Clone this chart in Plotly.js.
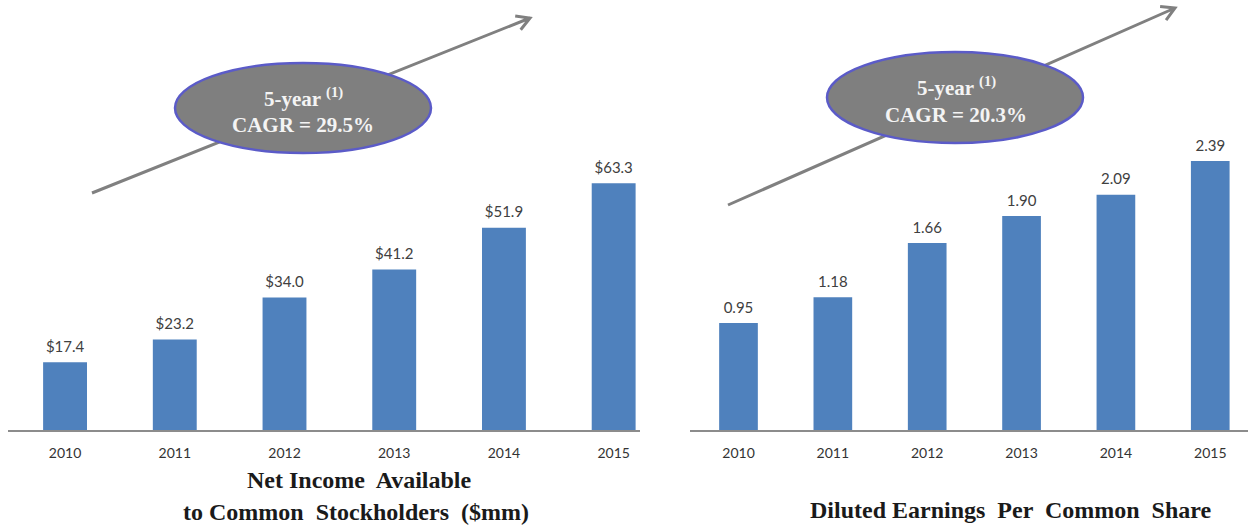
<!DOCTYPE html>
<html>
<head>
<meta charset="utf-8">
<script src="https://cdn.plot.ly/plotly-3.0.1.min.js"></script>
<style>html,body{margin:0;padding:0;background:#fff;}#chart{width:1248px;height:527px;}</style>
</head>
<body>
<div id="chart"></div>
<script>
// ---- data ----
const years = ["2010", "2011", "2012", "2013", "2014", "2015"];
const netIncome = [17.4, 23.2, 34.0, 41.2, 51.9, 63.3];
const netIncomeLabels = ["$17.4", "$23.2", "$34.0", "$41.2", "$51.9", "$63.3"];
const dilutedEPS = [0.95, 1.18, 1.66, 1.90, 2.09, 2.39];
const dilutedEPSLabels = ["0.95", "1.18", "1.66", "1.90", "2.09", "2.39"];
const leftTitle = ["Net Income  Available", "to Common  Stockholders  ($mm)"];
const rightTitle = "Diluted Earnings  Per  Common  Share";
const leftCagr = ["5-year <sup>(1)</sup>", "CAGR = 29.5%"];
const rightCagr = ["5-year <sup>(1)</sup>", "CAGR = 20.3%"];

// ---- helpers (pixel -> paper) ----
const W = 1248, H = 527;
const px = x => x / W;
const py = y => 1 - y / H;
function pt(x, y) { return px(x).toFixed(5) + "," + py(y).toFixed(5); }

const barColor = "#4f81bd";
const labelFont = {family: "Lato, 'Open Sans', sans-serif", size: 15, color: "#404040"};
const serifBold = "'Liberation Serif', 'DejaVu Serif', serif";

const traces = [
  {type: "bar", x: years, y: netIncome, xaxis: "x", yaxis: "y", width: 0.4,
   marker: {color: barColor}, hoverinfo: "skip"},
  {type: "bar", x: years, y: dilutedEPS, xaxis: "x2", yaxis: "y2", width: 0.41,
   marker: {color: barColor}, hoverinfo: "skip"},
  {type: "scatter", mode: "markers+text", x: years, y: netIncome, xaxis: "x", yaxis: "y",
   text: netIncomeLabels, textposition: "top center", textfont: labelFont,
   marker: {size: 9, opacity: 0}, cliponaxis: false, hoverinfo: "skip"},
  {type: "scatter", mode: "markers+text", x: years, y: dilutedEPS, xaxis: "x2", yaxis: "y2",
   text: dilutedEPSLabels, textposition: "top center", textfont: labelFont,
   marker: {size: 9, opacity: 0}, cliponaxis: false, hoverinfo: "skip"}
];

const annotations = [];
const titleFont = {family: serifBold, size: 24, color: "#1a1a1a"};
annotations.push({xref: "paper", yref: "paper", x: px(360), y: py(480), xanchor: "center", yanchor: "middle",
  text: "<b>" + leftTitle[0] + "</b>", showarrow: false, font: titleFont});
annotations.push({xref: "paper", yref: "paper", x: px(356), y: py(512), xanchor: "center", yanchor: "middle",
  text: "<b>" + leftTitle[1] + "</b>", showarrow: false, font: titleFont});
annotations.push({xref: "paper", yref: "paper", x: px(1010), y: py(510), xanchor: "center", yanchor: "middle",
  text: "<b>" + rightTitle + "</b>", showarrow: false, font: titleFont});

// CAGR texts
const cagrFont = {family: serifBold, size: 21, color: "#f4f4f4"};
function cagr(x, y, t) {
  annotations.push({xref: "paper", yref: "paper", x: px(x), y: py(y), xanchor: "center", yanchor: "middle",
    text: "<b>" + t + "</b>", showarrow: false, font: cagrFont});
}
cagr(303, 97, leftCagr[0]);
cagr(303, 125, leftCagr[1]);
cagr(956, 87, rightCagr[0]);
cagr(956, 115, rightCagr[1]);

const arrowLine = {color: "#808080", width: 3};
const shapes = [
  {type: "path", xref: "paper", yref: "paper", layer: "above", line: arrowLine,
   path: "M" + pt(92, 193) + " L" + pt(530, 18) + " M" + pt(520.7, 29.8) + " L" + pt(530, 18) + " L" + pt(515.2, 15.9)},
  {type: "path", xref: "paper", yref: "paper", layer: "above", line: arrowLine,
   path: "M" + pt(728, 205) + " L" + pt(1175, 8) + " M" + pt(1166.1, 20.1) + " L" + pt(1175, 8) + " L" + pt(1160.1, 6.4)},
  {type: "circle", xref: "paper", yref: "paper", layer: "above",
   x0: px(175), x1: px(431), y0: py(153), y1: py(63),
   fillcolor: "#7f7f7f", line: {color: "#5b5bc8", width: 2.5}},
  {type: "circle", xref: "paper", yref: "paper", layer: "above",
   x0: px(827), x1: px(1083), y0: py(143), y1: py(52),
   fillcolor: "#7f7f7f", line: {color: "#5b5bc8", width: 2.5}}
];

const tickFont = {family: "Lato, 'Open Sans', sans-serif", size: 14, color: "#333333"};
const baseY = 430;
const layout = {
  width: W, height: H,
  margin: {l: 0, r: 0, t: 0, b: 0},
  paper_bgcolor: "#ffffff", plot_bgcolor: "rgba(0,0,0,0)",
  showlegend: false,
  xaxis: {domain: [px(8), px(640)], type: "category", range: [-0.52, 5.24],
    showline: true, linecolor: "#8c8c8c", linewidth: 1.5, ticks: "", showgrid: false,
    zeroline: false, tickfont: tickFont, ticklabelstandoff: 10, fixedrange: true, anchor: "y"},
  yaxis: {domain: [py(baseY), 1], range: [0, 110.3], visible: false, fixedrange: true, anchor: "x"},
  xaxis2: {domain: [px(690), 1], type: "category", range: [-0.514, 5.40],
    showline: true, linecolor: "#8c8c8c", linewidth: 1.5, ticks: "", showgrid: false,
    zeroline: false, tickfont: tickFont, ticklabelstandoff: 10, fixedrange: true, anchor: "y2"},
  yaxis2: {domain: [py(baseY), 1], range: [0, 3.819], visible: false, fixedrange: true, anchor: "x2"},
  bargap: 0.6,
  shapes: shapes,
  annotations: annotations
};

Plotly.newPlot("chart", traces, layout, {displayModeBar: false, staticPlot: true});
</script>
</body>
</html>
